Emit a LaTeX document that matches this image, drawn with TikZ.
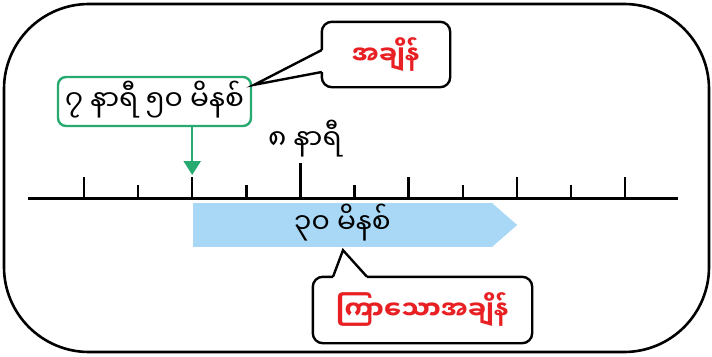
\documentclass[tikz,border=0pt]{standalone}
\usepackage{fontspec}
\newfontfamily\mya[Script=Myanmar]{Noto Sans Myanmar UI}
\usetikzlibrary{arrows.meta, positioning}
\definecolor{clockgreen}{RGB}{38,170,112}
\definecolor{callred}{RGB}{232,32,36}
\definecolor{spanblue}{RGB}{168,216,245}

\begin{document}
\begin{tikzpicture} [x=1pt, y=-1pt, font=\mya\fontsize{28}{30}\selectfont,
  frame/.style={line width=2.6pt, rounded corners=85pt},
  axis/.style={line width=3pt},
  tickmark/.style={line width=2.4pt},
  clockbox/.style={draw=clockgreen, line width=2.4pt, rounded corners=8pt, minimum width=193pt, minimum height=49pt, inner sep=0pt, text height=20pt, text depth=3pt},
  callbox/.style={inner sep=0pt, text=callred, font=\mya\bfseries\fontsize{25.5}{27}\selectfont},
  callline/.style={line width=2.4pt, rounded corners=10pt},
  tipline/.style={line width=2.4pt, line join=miter},
  spanbody/.style={fill=spanblue, inner sep=0pt, minimum width=299pt, minimum height=44pt, text height=19pt, text depth=3pt},
  pointer/.style={clockgreen, line width=2.4pt, -{Triangle[width=17pt,length=14pt]}}]
\useasboundingbox (0,0) rectangle (712,356);
\draw[frame] (4,4) rectangle (709,352);
\draw[axis] (28,198) -- (678,198);
\foreach \i in {0,...,10}{
  \pgfmathsetmacro\h{\i==4 ? 35 : (mod(\i,2)==0 ? 21 : 13)}
  \coordinate (t\i) at (84+54.1*\i,198);
  \draw[tickmark] (t\i) -- ++(0,-\h);
}
\node[spanbody] (span) at (342.5,225) {၃၀ မိနစ်};
\fill[spanblue] ([xshift=-0.5pt]span.north east) -- ([xshift=25pt]span.east) -- ([xshift=-0.5pt]span.south east) -- cycle;
\node[clockbox] (clock) at (154.5,101.5) {၇ နာရီ ၅၀ မိနစ်};
\node[anchor=base] (hour) at (305,149) {၈ နာရီ};
\draw[pointer] (clock.south -| t2) -- ([yshift=23pt]t2);
\node[callbox, minimum width=128pt, minimum height=65pt] (timebox) at (386,54.5) {အချိန်};
\coordinate (tip1) at ([xshift=2pt,yshift=-9pt]clock.north east);
\draw[callline] ([yshift=4.5pt]timebox.west) |- (timebox.north east) |- (timebox.south west) -- ([yshift=-17.5pt]timebox.west);
\draw[tipline] ([yshift=4.5pt]timebox.west) -- (tip1) -- ([yshift=-17.5pt]timebox.west);
\node[callbox, minimum width=219pt, minimum height=66pt] (elapsed) at (422.5,310) {ကြာသောအချိန်};
\coordinate (tip2) at ([xshift=0.5pt,yshift=-3pt]span.south);
\draw[callline] ([xshift=-55.5pt]elapsed.north) -| (elapsed.south east) -| (elapsed.north west) -- ([xshift=-89.5pt]elapsed.north);
\draw[tipline] ([xshift=-55.5pt]elapsed.north) -- (tip2) -- ([xshift=-89.5pt]elapsed.north);
\end{tikzpicture}
\end{document}
